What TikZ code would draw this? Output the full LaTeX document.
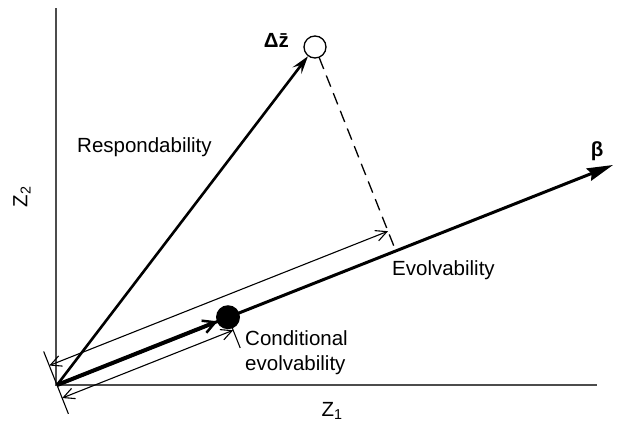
\documentclass[tikz,border=0pt]{standalone}
\usepackage{fontspec}
\setmainfont{Liberation Sans}
\usetikzlibrary{arrows.meta}
\begin{document}
\begin{tikzpicture}[x=1pt,y=-1pt,
  lbl/.style={font=\fontsize{20.5}{25}\selectfont, inner sep=0pt},
  axis/.style={draw=black!70, line width=1.3pt},
  thin/.style={line width=1.1pt},
  thinarrow/.style={thin, {Straight Barb[length=11pt,width=11pt]}-{Straight Barb[length=11pt,width=11pt]}}
]
\useasboundingbox (0,0) rectangle (617,426);
% key points
\coordinate (O) at (57,385);
\coordinate (T1) at (43.7,351.5);
\coordinate (T2) at (68.4,413.8);
\coordinate (A1) at (49.3,365.5);
\coordinate (A2) at (388,231.2);
\coordinate (B1) at (62.2,398);
\coordinate (B2) at (233.2,330.2);
\coordinate (DT1) at (231.3,325.6);
\coordinate (DT2) at (240.2,347.9);
\coordinate (F) at (395.7,250.7);
\coordinate (Bt) at (613,165);
\coordinate (Ytop) at (56,8);
\coordinate (Xend) at (597,385);
\coordinate (Org) at (56,385);
% axes
\draw[axis] (Ytop) -- (Org) -- (Xend);
% beta line
\draw[line width=3pt, -{Stealth[length=26pt,width=13pt,inset=3pt]}] (O) -- (Bt);
% nodes
\node[circle, fill=black, minimum size=24pt, inner sep=0pt] (D) at (228,317.2) {};
\node[circle, draw=black, line width=1.3pt, fill=white, minimum size=22pt, inner sep=0pt] (C) at (315,47) {};
% conditional thick arrow
\draw[line width=4pt, -{Straight Barb[length=12pt,width=13pt,line width=2.5pt]}, shorten >=-1pt] (O) -- (D);
% respondability
\draw[line width=2.6pt, -{Stealth[length=18pt,width=11pt,inset=7pt]}] (O) -- (C);
% dashed projection
\draw[line width=1.3pt, dash pattern=on 12pt off 7pt] (C) -- (F);
% perpendicular ticks
\draw[thin] (T1) -- (T2);
\draw[thin] (DT1) -- (DT2);
% double arrows
\draw[thinarrow] (A1) -- (A2);
\draw[thinarrow] (B1) -- (B2);
% labels
\node[lbl, anchor=east] (dz) at (289,40) {\bfseries Δ\=z};
\node[lbl, anchor=base west] (resp) at (77,152) {Respondability};
\node[lbl, anchor=base west] (evo) at (392,275.5) {Evolvability};
\node[lbl, anchor=north west, align=left] (cond) at (245,330) {Conditional\\evolvability};
\node[lbl] (beta) at (597,151) {\bfseries β};
\node[lbl] (z1) at (332,411) {Z\textsubscript{1}};
\node[lbl, rotate=90] (z2) at (22,197) {Z\textsubscript{2}};
\end{tikzpicture}
\end{document}
